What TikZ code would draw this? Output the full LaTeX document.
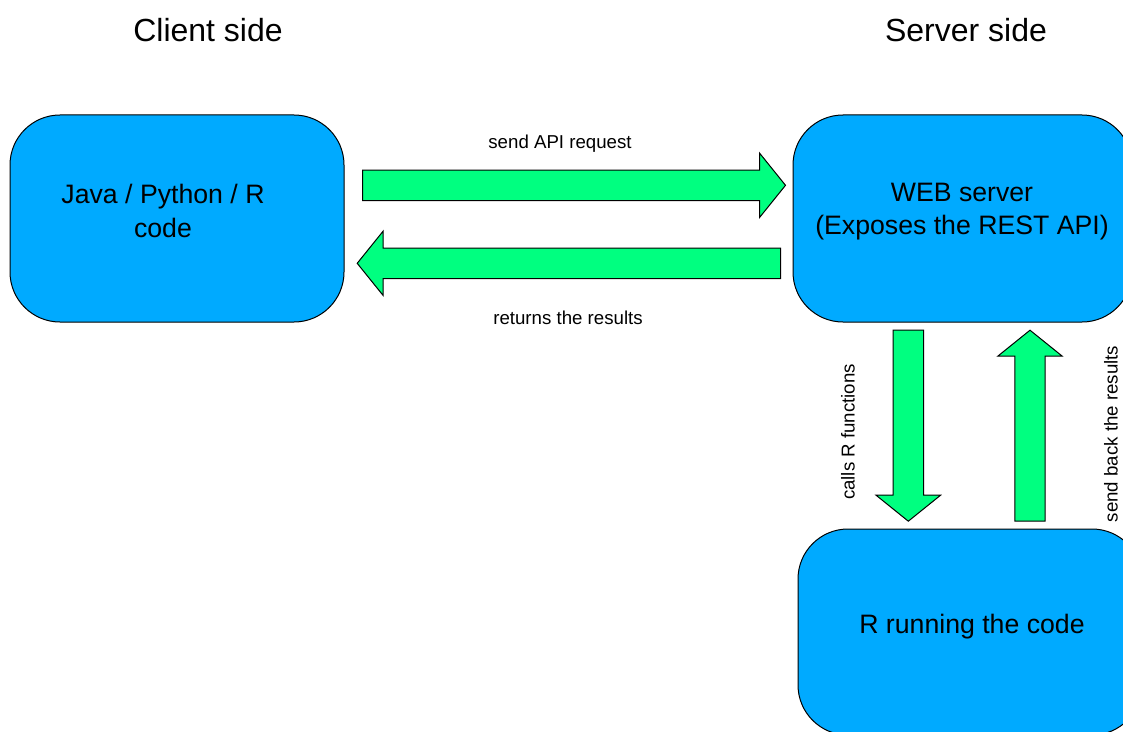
\documentclass[tikz,border=0pt]{standalone}
\usepackage{fontspec}
\setmainfont{Liberation Sans}
\usetikzlibrary{calc}
\definecolor{boxblue}{RGB}{0,170,255}
\definecolor{flowgreen}{RGB}{0,255,128}
\newcommand{\shaftw}{11.4pt}
\newcommand{\headw}{24.2pt}
\newcommand{\headl}{19.5pt}

\begin{document}
\begin{tikzpicture}[x=0.75pt,y=-0.75pt,
  box/.style={draw=black, line width=0.75pt, fill=boxblue, rounded corners=37.5pt, inner sep=0pt},
  boxtext/.style={align=center, font=\fontsize{20}{25}\selectfont},
  sidetitle/.style={font=\fontsize{24}{29}\selectfont},
  flowlabel/.style={font=\fontsize{14}{17}\selectfont},
  fatarrow/.style={draw=black, line width=0.75pt, fill=flowgreen, line join=miter,
    to path={($(\tikztostart)!\shaftw!90:(\tikztotarget)$)
      -- ($(\tikztotarget)!\headl!(\tikztostart)!\shaftw!90:(\tikztotarget)$)
      -- ($(\tikztotarget)!\headl!(\tikztostart)!\headw!90:(\tikztotarget)$)
      -- (\tikztotarget)
      -- ($(\tikztotarget)!\headl!(\tikztostart)!\headw!-90:(\tikztotarget)$)
      -- ($(\tikztotarget)!\headl!(\tikztostart)!\shaftw!-90:(\tikztotarget)$)
      -- ($(\tikztostart)!\shaftw!-90:(\tikztotarget)$) -- cycle}}]
\useasboundingbox (0,0) rectangle (1123,731);
\node[sidetitle] (clienttitle) at (208,30) {Client side};
\node[sidetitle] (servertitle) at (966,30) {Server side};
\node[box, minimum width=250.5pt, minimum height=155.25pt] (client) at (177,218.5) {};
\node[box, minimum width=254.25pt, minimum height=155.25pt] (web) at (962.5,218.5) {};
\node[box, minimum width=258pt, minimum height=154.5pt] (rcode) at (970,632) {};
\node[boxtext] (clienttext) at (163,211) {Java / Python / R\\code};
\node[boxtext] (webtext) at (962,211.5) {WEB server\\(Exposes the REST API)};
\node[boxtext] (rtext) at (972,627) {R running the code};
\coordinate (reqtail) at ([shift={(18,-33.2)}]client.east);
\coordinate (reqtip) at ([shift={(-7,-33.2)}]web.west);
\coordinate (restail) at ([shift={(-12,44.8)}]web.west);
\coordinate (restip) at ([shift={(12.7,44.8)}]client.east);
\coordinate (calltail) at ([shift={(-54.2,7.5)}]web.south);
\coordinate (calltip) at ([shift={(-61.7,-7.3)}]rcode.north);
\coordinate (backtail) at ([shift={(60,-7.3)}]rcode.north);
\coordinate (backtip) at ([shift={(67.5,7.7)}]web.south);
\draw[fatarrow] (reqtail) to (reqtip);
\draw[fatarrow] (restail) to (restip);
\draw[fatarrow] (calltail) to (calltip);
\draw[fatarrow] (backtail) to (backtip);
\node[flowlabel] (reqlabel) at (560,144) {send API request};
\node[flowlabel] (reslabel) at (568,318) {returns the results};
\node[flowlabel, rotate=90] (calllabel) at (848,432) {calls R functions};
\node[flowlabel, rotate=90] (backlabel) at (1111,434) {send back the results};
\end{tikzpicture}
\end{document}
